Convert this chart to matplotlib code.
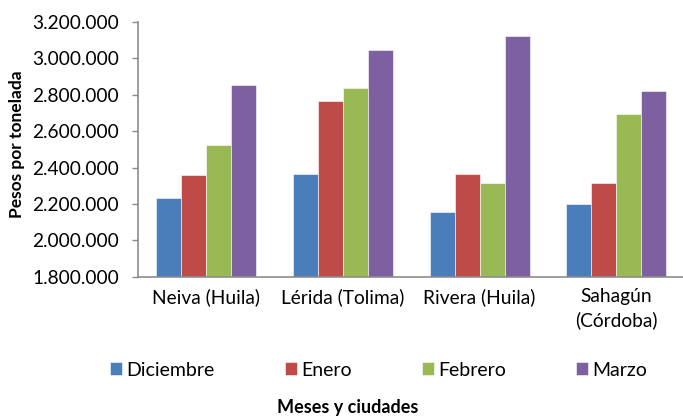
import matplotlib
matplotlib.use("Agg")
import matplotlib.pyplot as plt
import numpy as np
from matplotlib.ticker import FuncFormatter, MultipleLocator

plt.rcParams['font.family'] = ['Lato', 'DejaVu Sans']

ciudades = ["Neiva (Huila)", "Lérida (Tolima)", "Rivera (Huila)", "Sahagún\n(Córdoba)"]
meses = ["Diciembre", "Enero", "Febrero", "Marzo"]
diciembre = [2231000, 2365000, 2157000, 2200000]
enero = [2357000, 2766000, 2365000, 2315000]
febrero = [2522000, 2839000, 2315000, 2696000]
marzo = [2855000, 3046000, 3123000, 2822000]
colores = ["#4A7EBB", "#BE4B48", "#98B954", "#7D60A0"]

series = [diciembre, enero, febrero, marzo]

fig = plt.figure(figsize=(6.83, 4.17), dpi=100)
ax = fig.add_axes([137.6 / 683, (417 - 276.7) / 417, 547.2 / 683, 254.7 / 417])

x = np.arange(len(ciudades))
ancho = 0.73 / 4
for i, (vals, mes, col) in enumerate(zip(series, meses, colores)):
    ax.bar(x + (i - 1.5) * ancho, vals, width=ancho, color=col,
           edgecolor="white", linewidth=0.4, label=mes, zorder=2)

ax.set_xlim(-0.5, 3.5)
ax.set_ylim(1800000, 3200000)
ax.yaxis.set_major_locator(MultipleLocator(200000))
ax.yaxis.set_major_formatter(FuncFormatter(lambda v, p: f"{int(v):,}".replace(",", ".")))
ax.set_xticks(x)
ax.set_xticklabels(ciudades, linespacing=1.45)

for s in ["top", "right"]:
    ax.spines[s].set_visible(False)
for s in ["left", "bottom"]:
    ax.spines[s].set_color("#8c8c8c")
    ax.spines[s].set_linewidth(1.2)

ax.tick_params(axis="y", length=4.3, width=1, color="#8c8c8c", pad=9, labelsize=13.8)
ax.tick_params(axis="x", length=0, pad=8, labelsize=13.8)

fig.text(17 / 683, 1 - 144 / 417, "Pesos por tonelada", rotation=90, ha="center",
         va="center", fontsize=12.5, fontweight="bold")
fig.text(348 / 683, 1 - 408 / 417, "Meses y ciudades", ha="center", va="center",
         fontsize=13, fontweight="bold")

fig.legend(loc="center", bbox_to_anchor=(378.5 / 683, 1 - 370 / 417), ncol=4,
           frameon=False, fontsize=14, handlelength=0.62, handleheight=0.62,
           handletextpad=0.22, columnspacing=3.6)

fig.savefig("out.png", dpi=100)
